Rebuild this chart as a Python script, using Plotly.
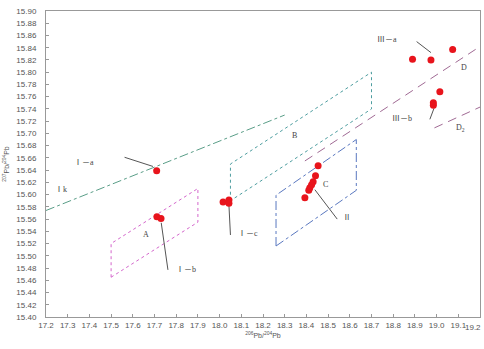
import plotly.graph_objects as go

# ---- data ----
# sample points (206Pb/204Pb, 207Pb/204Pb)
pts_x = [17.71, 17.711, 17.73, 18.016, 18.043, 18.043,
         18.454, 18.442, 18.431, 18.424, 18.416, 18.411, 18.393,
         18.889, 18.974, 19.074, 19.015, 18.985, 18.985]
pts_y = [15.639, 15.564, 15.561, 15.588, 15.591, 15.586,
         15.647, 15.631, 15.621, 15.616, 15.611, 15.607, 15.595,
         15.821, 15.820, 15.837, 15.768, 15.750, 15.746]

# reference lines / fields
ik_x = [17.2, 18.30]
ik_y = [15.574, 15.730]
a_x = [17.5, 17.5, 17.9, 17.9, 17.5]
a_y = [15.465, 15.52, 15.61, 15.555, 15.465]
b_x = [18.05, 18.05, 18.7, 18.7, 18.05]
b_y = [15.59, 15.65, 15.80, 15.74, 15.59]
c_x = [18.26, 18.26, 18.63, 18.63, 18.26]
c_y = [15.516, 15.599, 15.69, 15.607, 15.516]
d_x = [18.393, 19.2]
d_y = [15.655, 15.842]
d2_x = [18.99, 19.2]
d2_y = [15.709, 15.743]

# leader lines (x0, y0, x1, y1)
leaders = [
    (17.562, 15.661, 17.693, 15.646),
    (17.731, 15.554, 17.762, 15.477),
    (18.043, 15.583, 18.050, 15.534),
    (18.439, 15.608, 18.542, 15.560),
    (18.908, 15.850, 18.974, 15.832),
    (18.969, 15.723, 18.988, 15.741),
]

# labels
lab_text = ["Ⅰ－a", "Ⅰ－b", "Ⅰ－c", "Ⅱ", "C", "Ⅲ－a", "Ⅲ－b", "D", "D<sub>2</sub>", "A", "B", "Ⅰk"]
lab_x = [17.373, 17.844, 18.130, 18.586, 18.489, 18.771, 18.840, 19.126, 19.112, 17.659, 18.346, 17.267]
lab_y = [15.653, 15.478, 15.537, 15.563, 15.617, 15.853, 15.725, 15.808, 15.709, 15.534, 15.697, 15.609]

x_ticks = [round(17.2 + 0.1 * i, 1) for i in range(21)]
y_ticks = [round(15.40 + 0.02 * i, 2) for i in range(26)]

fig = go.Figure()

def line(xs, ys, color, dash):
    fig.add_trace(go.Scatter(x=xs, y=ys, mode="lines",
                             line=dict(color=color, width=1, dash=dash),
                             hoverinfo="skip", showlegend=False))

line(ik_x, ik_y, "#5a9e88", "dashdot")
line(a_x, a_y, "#d466cc", "dot")
line(b_x, b_y, "#4e9ea0", "dot")
line(c_x, c_y, "#5a78c0", "dashdot")
line(d_x, d_y, "#a06a94", "9px,6px")
line(d2_x, d2_y, "#a06a94", "9px,6px")

for (x0, y0, x1, y1) in leaders:
    line([x0, x1], [y0, y1], "#555555", "solid")

fig.add_trace(go.Scatter(x=pts_x, y=pts_y, mode="markers",
                         marker=dict(color="#e8141c", size=7),
                         showlegend=False))

for t, x, y in zip(lab_text, lab_x, lab_y):
    fig.add_annotation(x=x, y=y, text=t, showarrow=False,
                       font=dict(size=8, color="#444444",
                                 family="Liberation Serif, Noto Sans CJK JP, serif"))

# last x tick label kept inside the window (right-aligned at the plot's right edge)
axis_ticks = x_ticks[:-1]
fig.add_annotation(x=1, y=0, xref="paper", yref="paper", text=f"{x_ticks[-1]:.1f}",
                   showarrow=False, xanchor="right", yanchor="top", xshift=3, yshift=-4,
                   font=dict(size=8, color="#555555"))

fig.update_layout(
    width=484, height=349,
    margin=dict(l=46, r=4, t=11, b=32),
    paper_bgcolor="white", plot_bgcolor="white",
    font=dict(family="Liberation Sans, Arial, sans-serif", size=8, color="#555555"),
    xaxis=dict(range=[17.2, 19.2], tickvals=axis_ticks, ticktext=[f"{v:.1f}" for v in axis_ticks],
               ticks="inside", ticklen=3, tickcolor="#999999",
               showline=True, linecolor="#999999", linewidth=1, mirror=True,
               showgrid=False, zeroline=False,
               title=dict(text="<sup>206</sup>Pb/<sup>204</sup>Pb", font=dict(size=7), standoff=4),
               tickfont=dict(size=8)),
    yaxis=dict(range=[15.40, 15.90], tickvals=y_ticks, ticktext=[f"{v:.2f}" for v in y_ticks],
               ticks="inside", ticklen=3, tickcolor="#999999",
               showline=True, linecolor="#999999", linewidth=1, mirror=True,
               showgrid=False, zeroline=False, ticklabelstandoff=7, ticklabeloverflow="allow",
               title=dict(text="<sup>207</sup>Pb/<sup>204</sup>Pb", font=dict(size=7), standoff=5),
               tickfont=dict(size=8)),
)

fig.write_html("out.html", config={"displayModeBar": False},
               post_script="document.body.style.margin='0';document.body.style.overflow='hidden';")
